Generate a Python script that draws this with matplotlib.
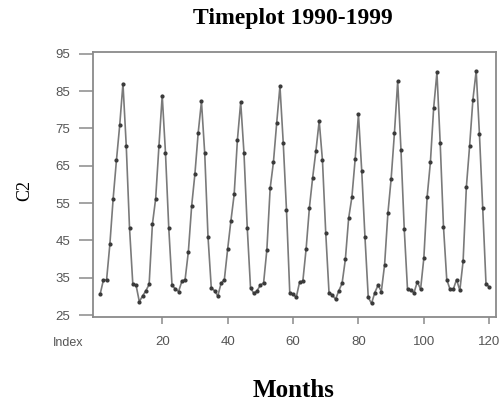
import numpy as np
import matplotlib.pyplot as plt

# monthly values, one list per year
y1990 = [30.5, 34.3, 34.5, 44.0, 56.2, 66.4, 75.8, 87.0, 70.4, 48.4, 33.4, 33.0]
y1991 = [28.6, 30.1, 31.5, 33.2, 49.3, 56.2, 70.3, 83.8, 68.4, 48.4, 33.0, 32.0]
y1992 = [31.3, 34.0, 34.5, 42.0, 54.2, 62.8, 73.8, 82.2, 68.3, 46.0, 32.3, 31.5]
y1993 = [30.1, 33.5, 34.5, 42.6, 50.2, 57.3, 72.0, 82.0, 68.4, 48.4, 32.3, 30.8]
y1994 = [31.5, 33.0, 33.6, 42.5, 58.9, 65.9, 76.4, 86.3, 71.2, 53.1, 31.0, 30.5]
y1995 = [29.8, 33.8, 34.1, 42.7, 53.7, 61.8, 69.0, 77.0, 66.4, 47.0, 31.0, 30.4]
y1996 = [29.2, 31.5, 33.5, 39.9, 50.9, 56.6, 66.8, 78.8, 63.7, 45.8, 29.7, 28.1]
y1997 = [31.0, 33.0, 31.3, 38.5, 52.2, 61.5, 73.7, 87.6, 69.3, 48.1, 31.9, 31.6]
y1998 = [31.0, 33.9, 31.9, 40.3, 56.6, 65.9, 80.5, 90.0, 71.0, 48.7, 34.5, 31.9]
y1999 = [31.9, 34.5, 31.6, 39.4, 59.3, 70.4, 82.7, 90.4, 73.4, 53.6, 33.4, 32.5]

c2 = np.concatenate([y1990, y1991, y1992, y1993, y1994,
                     y1995, y1996, y1997, y1998, y1999])
index = np.arange(1, len(c2) + 1)

x_ticks = [20, 40, 60, 80, 100, 120]
y_ticks = [25, 35, 45, 55, 65, 75, 85, 95]

fig = plt.figure(figsize=(5.03, 4.05), dpi=100)
ax = fig.add_axes([0.184, 0.218, 0.803, 0.654])

ax.plot(index, c2, color='#7a7a7a', linewidth=1.2,
        marker='o', markersize=2.0, markerfacecolor='#3a3a3a',
        markeredgecolor='#3a3a3a')

ax.set_xlim(-1.3, 122.2)
ax.set_ylim(24.55, 95.5)
ax.set_xticks(x_ticks)
ax.set_yticks(y_ticks)

for s in ax.spines.values():
    s.set_color('#8a8a8a')
    s.set_linewidth(1.3)

ax.tick_params(axis='y', length=10, width=1.1, color='#8a8a8a', pad=6,
               labelsize=9.5, labelcolor='#555555')
ax.tick_params(axis='x', length=5, width=1.1, color='#8a8a8a', pad=9,
               labelsize=9.5, labelcolor='#555555')
for lab in ax.get_xticklabels() + ax.get_yticklabels():
    lab.set_family('Liberation Sans')

fig.text(0.135, 0.153, 'Index', ha='center', va='center',
         fontsize=9, color='#555555', family='Liberation Sans')

fig.text(0.583, 0.955, 'Timeplot 1990-1999', ha='center', va='center',
         fontsize=17, fontweight='bold', family='Liberation Serif')
fig.text(0.583, 0.035, 'Months', ha='center', va='center',
         fontsize=18, fontweight='bold', family='Liberation Serif')
fig.text(0.05, 0.53, 'C2', ha='center', va='center', rotation=90,
         fontsize=13, family='Liberation Serif')

fig.savefig('out.png', dpi=100)
